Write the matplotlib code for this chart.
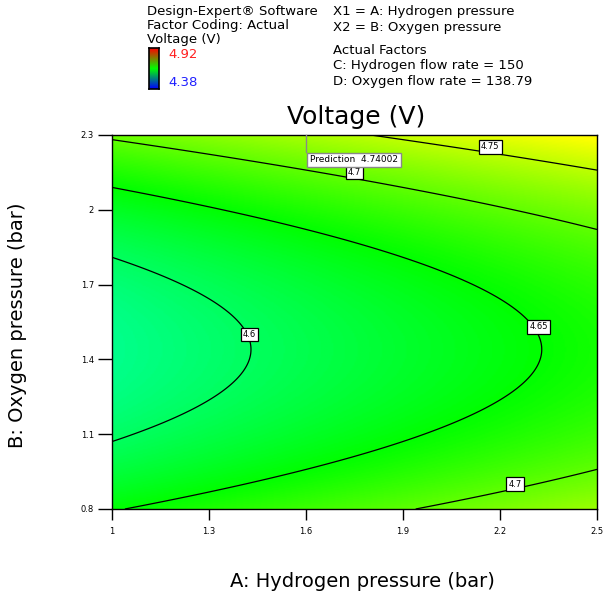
"""
Contour plot of the fitted voltage response over hydrogen and oxygen pressure,
laid out like a Design-Expert response surface report.
"""
import numpy as np
import matplotlib
matplotlib.use('Agg')
import matplotlib.pyplot as plt
from matplotlib.colors import LinearSegmentedColormap, Normalize

plt.rcParams['font.family'] = ['DejaVu Sans']

# fitted quadratic model: V = b0 + bA*A + bB*B + bBB*B^2
b0 = 4.88338
bA = 0.0556
bB = -0.504
bBB = 0.175

a_range = [1.0, 2.5]
b_range = [0.8, 2.3]
x_ticks = [1, 1.3, 1.6, 1.9, 2.2, 2.5]
y_ticks = [0.8, 1.1, 1.4, 1.7, 2, 2.3]
x_tick_labels = ['1', '1.3', '1.6', '1.9', '2.2', '2.5']
y_tick_labels = ['0.8', '1.1', '1.4', '1.7', '2', '2.3']

levels = [4.6, 4.65, 4.7, 4.75]
color_min = 4.38
color_max = 4.92

prediction_point = (1.6, 2.3)
prediction_value = 4.74002

header_left = ['Design-Expert\u00ae Software', 'Factor Coding: Actual', 'Voltage (V)']
header_right = ['X1 = A: Hydrogen pressure', 'X2 = B: Oxygen pressure']
actual_factors = ['Actual Factors', 'C: Hydrogen flow rate = 150',
                  'D: Oxygen flow rate = 138.79']


def voltage(a, b):
    return b0 + bA * a + bB * b + bBB * b ** 2


W, H = 606, 592
fig = plt.figure(figsize=(W / 100, H / 100), dpi=100)

cmap = LinearSegmentedColormap.from_list(
    'dx', ['#0000ff', '#00ffff', '#00ff00', '#ffff00', '#ff0000'])
norm = Normalize(color_min, color_max)

ax = fig.add_axes([112 / W, 1 - 509 / H, 485 / W, 374 / H])
aa, bb = np.meshgrid(np.linspace(a_range[0], a_range[1], 300),
                     np.linspace(b_range[0], b_range[1], 300))
vv = voltage(aa, bb)
ax.imshow(vv, origin='lower', extent=a_range + b_range, aspect='auto',
          cmap=cmap, norm=norm, interpolation='bilinear')
ax.contour(aa, bb, vv, levels=levels, colors='black', linewidths=0.9)

# contour labels (white boxes sitting on the lines)
label_spots = [(4.6, 1.425, 1.50), (4.65, 2.32, 1.53), (4.7, 1.75, 2.148),
               (4.7, 2.246, 0.90), (4.75, 2.17, 2.252)]
for lev, xa, yb in label_spots:
    ax.text(xa, yb, '%g' % lev, fontsize=6, ha='center', va='center', zorder=5,
            bbox=dict(boxstyle='square,pad=0.25', fc='white', ec='black', lw=0.9))

# prediction flag
px, py = prediction_point
ax.plot([px, px], [py, py - 0.07], color='#888888', lw=1, zorder=4, clip_on=False)
ax.text(px + 0.012, py - 0.10, 'Prediction  %.5f' % prediction_value, fontsize=6.5,
        ha='left', va='center', zorder=5,
        bbox=dict(boxstyle='square,pad=0.3', fc='white', ec='#888888', lw=1))

ax.set_xlim(a_range)
ax.set_ylim(b_range)
ax.set_xticks(x_ticks)
ax.set_xticklabels(x_tick_labels)
ax.set_yticks(y_ticks)
ax.set_yticklabels(y_tick_labels)
ax.tick_params(axis='x', direction='out', length=8, width=1, labelsize=6, pad=5)
ax.tick_params(axis='y', direction='out', length=10, width=1, labelsize=6, pad=3)
for sp in ax.spines.values():
    sp.set_linewidth(1)

ax.set_xlabel('A: Hydrogen pressure (bar)', fontsize=14)
ax.xaxis.set_label_coords((362 - 112) / 485, (509 - 572) / 374)
ax.set_ylabel('B: Oxygen pressure (bar)', fontsize=14)
ax.yaxis.set_label_coords((27 - 112) / 485, 0.492)

fig.text(356 / W, 1 - 117 / H, 'Voltage (V)', fontsize=18, ha='center', va='center')

# header block
for i, line in enumerate(header_left):
    fig.text(147 / W, 1 - (12 + 14 * i) / H, line, fontsize=9.5, va='center')
for i, line in enumerate(header_right):
    fig.text(333 / W, 1 - (12 + 15 * i) / H, line, fontsize=9.5, va='center')
for i, line in enumerate(actual_factors):
    fig.text(333 / W, 1 - (51 + 15 * i) / H, line, fontsize=9.5, va='center')

cax = fig.add_axes([149 / W, 1 - 89 / H, 10 / W, 41 / H])
cax.imshow(np.linspace(color_max, color_min, 100)[:, None], aspect='auto',
           cmap=LinearSegmentedColormap.from_list('bar', ['#0000ff', '#00ff00', '#ff0000']),
           vmin=color_min, vmax=color_max)
cax.set_xticks([])
cax.set_yticks([])
for sp in cax.spines.values():
    sp.set_linewidth(1.2)
fig.text(168 / W, 1 - 54 / H, '%.2f' % color_max, color='#ff2020', fontsize=9.5, va='center')
fig.text(168 / W, 1 - 82 / H, '%.2f' % color_min, color='#2020ff', fontsize=9.5, va='center')

fig.savefig('out.png', dpi=100)
